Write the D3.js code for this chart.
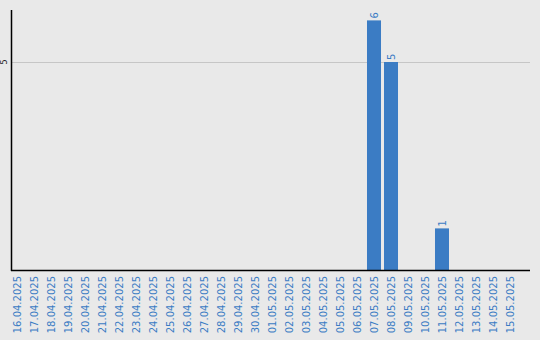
<!DOCTYPE html>
<html>
<head>
<meta charset="utf-8">
<script src="https://cdn.jsdelivr.net/npm/d3@7"></script>
<style>
  html, body { margin: 0; padding: 0; background: #e9e9e9; }
  svg { display: block; }
</style>
</head>
<body>
<svg id="chart" width="540" height="340"></svg>
<script>
// Daily counts, 16.04.2025 – 15.05.2025
const dates = [
  "16.04.2025","17.04.2025","18.04.2025","19.04.2025","20.04.2025","21.04.2025",
  "22.04.2025","23.04.2025","24.04.2025","25.04.2025","26.04.2025","27.04.2025",
  "28.04.2025","29.04.2025","30.04.2025","01.05.2025","02.05.2025","03.05.2025",
  "04.05.2025","05.05.2025","06.05.2025","07.05.2025","08.05.2025","09.05.2025",
  "10.05.2025","11.05.2025","12.05.2025","13.05.2025","14.05.2025","15.05.2025"
];
const counts = [
  0,0,0,0,0,0,
  0,0,0,0,0,0,
  0,0,0,0,0,0,
  0,0,0,6,5,0,
  0,1,0,0,0,0
];
const yTicks = [5];

const svg = d3.select("#chart");
const W = 540, H = 340;
const plotLeft = 11, plotRight = 530, plotTop = 10, plotBottom = 270;

svg.append("rect").attr("width", W).attr("height", H).attr("fill", "#e9e9e9");

const x = d3.scaleBand()
  .domain(dates)
  .range([8.5, 518.5])
  .paddingInner(0.176)
  .paddingOuter(0.088);

const y = d3.scaleLinear().domain([0, 6.25]).range([plotBottom, plotTop]);

// grid lines
svg.append("g").selectAll("line")
  .data(yTicks)
  .join("line")
  .attr("x1", plotLeft).attr("x2", plotRight)
  .attr("y1", d => y(d) + 0.5).attr("y2", d => y(d) + 0.5)
  .attr("stroke", "#c6c6c6").attr("stroke-width", 1);

// y tick labels (rotated)
svg.append("g").selectAll("text")
  .data(yTicks)
  .join("text")
  .attr("transform", d => `translate(7,${y(d)}) rotate(-90)`)
  .attr("text-anchor", "middle")
  .attr("font-family", "DejaVu Sans, sans-serif")
  .attr("font-size", 8)
  .attr("fill", "#222")
  .text(d => d);

const data = dates.map((d, i) => ({ date: d, value: counts[i] }));

// bars
svg.append("g").selectAll("rect")
  .data(data.filter(d => d.value > 0))
  .join("rect")
  .attr("x", d => x(d.date))
  .attr("width", x.bandwidth())
  .attr("y", d => y(d.value))
  .attr("height", d => y(0) - y(d.value))
  .attr("fill", "#3b7cc4");

// value labels
svg.append("g").selectAll("text")
  .data(data.filter(d => d.value > 0))
  .join("text")
  .attr("transform", d => `translate(${x(d.date) + x.bandwidth() / 2 + 3.5},${y(d.value) - 2}) rotate(-90)`)
  .attr("text-anchor", "start")
  .attr("font-family", "DejaVu Sans, sans-serif")
  .attr("font-size", 10)
  .attr("fill", "#3b7cc4")
  .text(d => d.value);

// axes lines
svg.append("line")
  .attr("x1", plotLeft + 0.5).attr("x2", plotLeft + 0.5)
  .attr("y1", plotTop).attr("y2", plotBottom + 1)
  .attr("stroke", "#000").attr("stroke-width", 1.5);
svg.append("line")
  .attr("x1", plotLeft).attr("x2", plotRight)
  .attr("y1", plotBottom + 0.5).attr("y2", plotBottom + 0.5)
  .attr("stroke", "#000").attr("stroke-width", 1.5);

// date labels
svg.append("g").selectAll("text")
  .data(dates)
  .join("text")
  .attr("transform", d => `translate(${x(d) + x.bandwidth() / 2 + 3.5},276) rotate(-90)`)
  .attr("text-anchor", "end")
  .attr("font-family", "DejaVu Sans, sans-serif")
  .attr("font-size", 10)
  .attr("fill", "#3b7cc4")
  .text(d => d);
</script>
</body>
</html>
